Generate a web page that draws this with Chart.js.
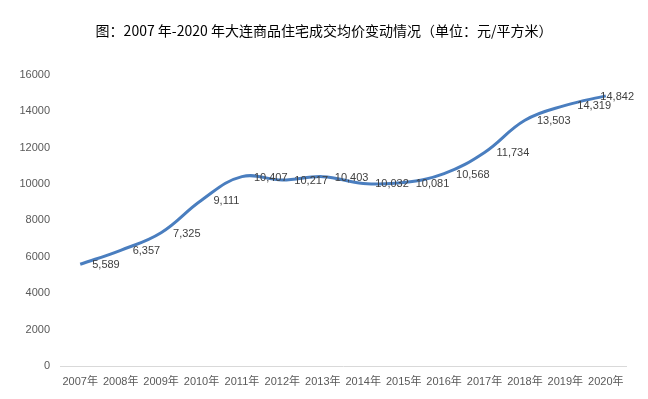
<!DOCTYPE html>
<html>
<head>
<meta charset="utf-8">
<script src="https://cdn.jsdelivr.net/npm/chart.js@4"></script>
<style>
    html, body { margin: 0; padding: 0; background: #fff; }
    #wrap { width: 648px; height: 399px; }
</style>
</head>
<body>
<div id="wrap"><canvas id="priceChart" width="648" height="399"></canvas></div>
<script>
const years = ['2007年', '2008年', '2009年', '2010年', '2011年', '2012年', '2013年',
    '2014年', '2015年', '2016年', '2017年', '2018年', '2019年', '2020年'];
const avgPrice = [5589, 6357, 7325, 9111, 10407, 10217, 10403, 10032, 10081, 10568, 11734, 13503, 14319, 14842];
const yTicks = [0, 2000, 4000, 6000, 8000, 10000, 12000, 14000, 16000];

const titleText = '图：2007 年-2020 年大连商品住宅成交均价变动情况（单位：元/平方米）';
const fontFamily = '"Liberation Sans", "Noto Sans CJK SC", sans-serif';

// data labels drawn to the right of each point, like Excel's "right" position
const pointLabels = {
    id: 'pointLabels',
    afterDatasetsDraw(chart) {
        const ctx = chart.ctx;
        const meta = chart.getDatasetMeta(0);
        ctx.save();
        ctx.font = '11px ' + fontFamily;
        ctx.fillStyle = '#404040';
        ctx.textBaseline = 'middle';
        ctx.textAlign = 'left';
        meta.data.forEach((pt, i) => {
            const text = avgPrice[i].toLocaleString('en-US');
            const w = ctx.measureText(text).width;
            let x = pt.x + 12;
            if (x + w > chart.width - 14) {
                x = chart.width - 14 - w;
            }
            ctx.fillText(text, x, pt.y + 1);
        });
        ctx.restore();
    }
};

// center the title on the whole canvas, not on the padded box
const centerTitle = {
    id: 'centerTitle',
    afterLayout(chart) {
        const t = chart.titleBlock;
        if (t) {
            t.left = 0;
            t.right = chart.width;
            t.width = chart.width;
        }
    }
};

const ctx = document.getElementById('priceChart').getContext('2d');
new Chart(ctx, {
    type: 'line',
    data: {
        labels: years,
        datasets: [{
            data: avgPrice,
            borderColor: '#4a7ebf',
            borderWidth: 3,
            tension: 0.4,
            pointRadius: 0,
            fill: false
        }]
    },
    options: {
        responsive: false,
        animation: false,
        layout: {
            padding: { left: 0, right: 22, top: 0, bottom: 0 }
        },
        plugins: {
            legend: { display: false },
            tooltip: { enabled: false },
            title: {
                display: true,
                text: titleText,
                color: '#000',
                font: { family: '"Noto Sans CJK SC", sans-serif', size: 14, weight: 'normal' },
                padding: { top: 22, bottom: 36 }
            }
        },
        scales: {
            x: {
                offset: true,
                grid: { display: false },
                border: { display: true, color: '#d9d9d9', width: 1 },
                ticks: {
                    color: '#595959',
                    font: { family: fontFamily, size: 11 },
                    maxRotation: 0,
                    autoSkip: false,
                    padding: 1
                },
                afterFit(scale) { scale.height = 33; }
            },
            y: {
                min: 0,
                max: 16000,
                grid: { display: false },
                border: { display: false },
                afterBuildTicks(scale) {
                    scale.ticks = yTicks.map(v => ({ value: v }));
                },
                ticks: {
                    color: '#595959',
                    font: { family: fontFamily, size: 11 },
                    padding: 2,
                    callback: v => String(v)
                },
                afterFit(scale) { scale.width = 60; }
            }
        }
    },
    plugins: [pointLabels, centerTitle]
});
</script>
</body>
</html>
